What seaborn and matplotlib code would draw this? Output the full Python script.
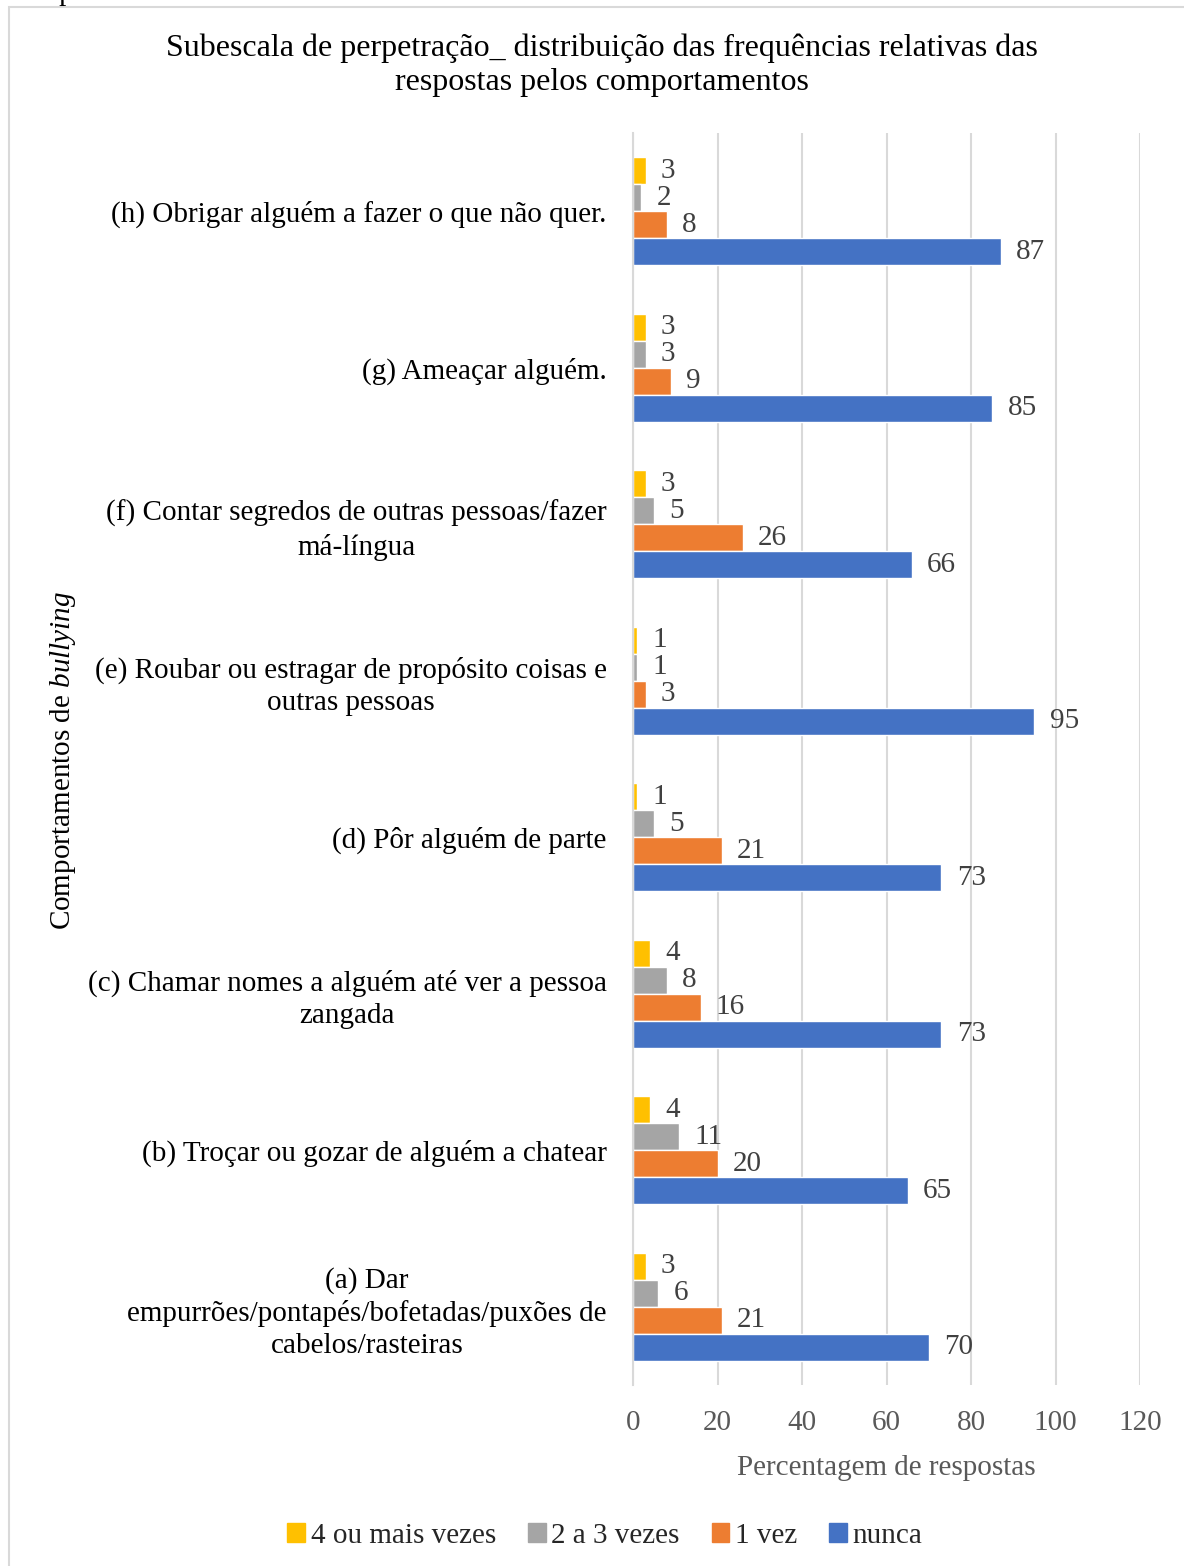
import matplotlib
matplotlib.use("Agg")
import matplotlib.pyplot as plt
import matplotlib.patches as mpatches
import pandas as pd
import seaborn as sns

# Behaviour categories, top to bottom
categories = [
    "(h) Obrigar alguém a fazer o que não quer.",
    "(g) Ameaçar alguém.",
    "(f) Contar segredos de outras pessoas/fazer\nmá-língua",
    "(e) Roubar ou estragar de propósito coisas e\noutras pessoas",
    "(d) Pôr alguém de parte",
    "(c) Chamar nomes a alguém até ver a pessoa\nzangada",
    "(b) Troçar ou gozar de alguém a chatear",
    "(a) Dar\nempurrões/pontapés/bofetadas/puxões de\ncabelos/rasteiras",
]
series_names = ["4 ou mais vezes", "2 a 3 vezes", "1 vez", "nunca"]
quatro_ou_mais = [3, 3, 3, 1, 1, 4, 4, 3]
dois_a_tres = [2, 3, 5, 1, 5, 8, 11, 6]
uma_vez = [8, 9, 26, 3, 21, 16, 20, 21]
nunca = [87, 85, 66, 95, 73, 73, 65, 70]
x_ticks = [0, 20, 40, 60, 80, 100, 120]
colors = ["#FFC000", "#A5A5A5", "#ED7D31", "#4472C4"]

rows = []
for name, vals in zip(series_names, [quatro_ou_mais, dois_a_tres, uma_vez, nunca]):
    for cat, v in zip(categories, vals):
        rows.append({"categoria": cat, "frequencia": name, "valor": v})
df = pd.DataFrame(rows)

sns.set_theme(style="white")
plt.rcParams["font.family"] = ["Liberation Serif", "DejaVu Serif"]
plt.rcParams["mathtext.fontset"] = "custom"
plt.rcParams["mathtext.rm"] = "Liberation Serif"
plt.rcParams["mathtext.it"] = "Liberation Serif:italic"

FS = 21
W, H = 1184, 1566
fig = plt.figure(figsize=(W / 100, H / 100), dpi=100)
ax = fig.add_axes([633 / W, 1 - 1385 / H, (1140 - 633) / W, (1385 - 133) / H])

sns.barplot(
    data=df, y="categoria", x="valor", hue="frequencia",
    order=categories, hue_order=series_names, palette=colors,
    orient="h", width=0.69, saturation=1, ax=ax, legend=False,
)

for container in ax.containers:
    ax.bar_label(container, fmt="%g", padding=11, fontsize=FS, color="#404040")

ax.set_xlim(0, 120)
ax.set_ylim(7.5, -0.5)
ax.set_xticks(x_ticks)
ax.xaxis.grid(True, color="#D9D9D9", linewidth=1.5)
ax.set_axisbelow(True)
for s in ["top", "right", "bottom"]:
    ax.spines[s].set_visible(False)
ax.spines["left"].set_color("#D9D9D9")
ax.spines["left"].set_linewidth(1.5)
ax.tick_params(axis="x", length=0, pad=18, labelsize=FS, labelcolor="#595959")
ax.tick_params(axis="y", length=0, pad=19, labelsize=FS, labelcolor="black")
for lbl in ax.get_yticklabels():
    lbl.set_multialignment("center")
    lbl.set_linespacing(1.3)
ax.set_ylabel("")
ax.set_xlabel("Percentagem de respostas", fontsize=FS, color="#595959", labelpad=14)

fig.text(63 / W, 1 - 760 / H, r"Comportamentos de $\mathit{bullying}$",
         rotation=90, ha="center", va="center", fontsize=FS, color="black")

fig.text(602 / W, 1 - 65 / H,
         "Subescala de perpetração_ distribuição das frequências relativas das\nrespostas pelos comportamentos",
         ha="center", va="center", fontsize=23, color="black", linespacing=1.22)

# chart frame
fig.add_artist(mpatches.Rectangle((9 / W, -0.05), 1.1, 1 - 7 / H + 0.05,
                                  transform=fig.transFigure, fill=False,
                                  edgecolor="#D9D9D9", linewidth=1.5, clip_on=False))
fig.text(10 / W, 1 - 0.5 / H, "comportamentos.", ha="left", va="baseline",
         fontsize=FS, color="black")

handles = [mpatches.Patch(color=c, label=n) for c, n in zip(colors, series_names)]
fig.legend(handles=handles, loc="center", bbox_to_anchor=(605 / W, 1 - 1536 / H),
           ncol=4, frameon=False, fontsize=FS, handlelength=0.6, handleheight=0.6,
           handletextpad=0.2, columnspacing=1.1)

fig.savefig("out.png", dpi=100)
